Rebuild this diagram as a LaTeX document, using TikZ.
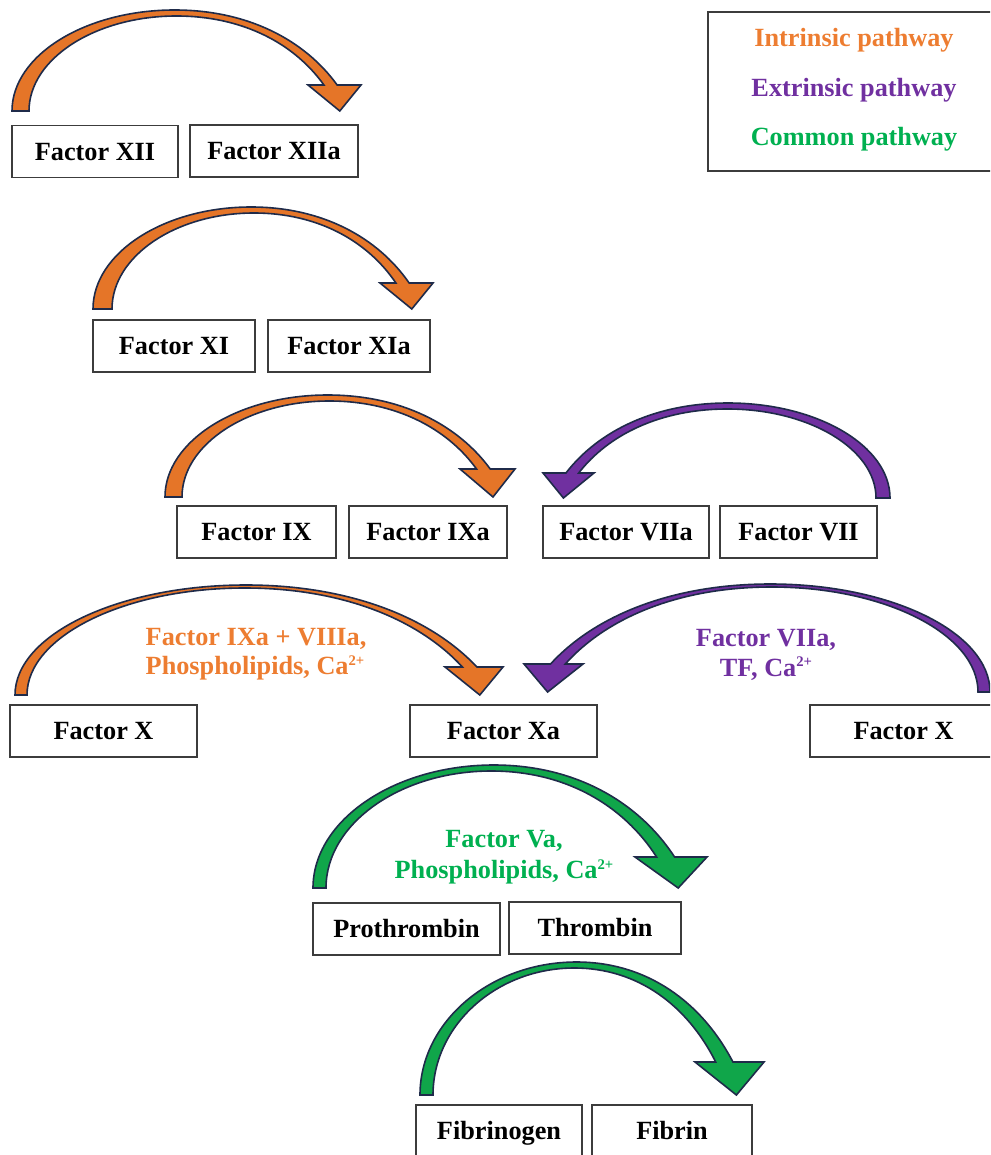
\documentclass[tikz,border=0pt]{standalone}
\usepackage{fontspec}
\setmainfont{Liberation Serif}
\definecolor{orng}{HTML}{ED7D31}
\definecolor{orngA}{HTML}{E57528}
\definecolor{purp}{HTML}{7030A0}
\definecolor{grn}{HTML}{00B050}
\definecolor{grnA}{HTML}{10A64A}
\definecolor{navy}{HTML}{1F2B4A}
\definecolor{boxline}{HTML}{3C3C3C}
\newcommand\supp[1]{\raisebox{0.36em}{\fontsize{11}{11}\selectfont #1}}
% ribbon arrow: #1 fill, #2 foot outer x, #3 foot inner x, #4 foot y, #5 top y,
% #6 head base y, #7 head left x, #8 head right x, #9 band thickness at top
\newcommand\rbarrow[9]{%
  \pgfmathsetmacro\rbW{(#8)-(#7)}%
  \pgfmathsetmacro\rbBi{(#7)+0.3*\rbW}%
  \pgfmathsetmacro\rbBo{(#7)+0.55*\rbW}%
  \pgfmathsetmacro\rbTx{(#7)+0.6*\rbW}%
  \pgfmathsetmacro\rbXm{((#2)+\rbBo)/2}%
  \pgfmathsetmacro\rbXi{((#3)+\rbBi)/2}%
  \pgfmathsetmacro\rbYi{(#5)+(#9)}%
  \pgfmathsetmacro\rbA{(#4)-0.55*((#4)-(#5))}%
  \pgfmathsetmacro\rbB{\rbXm-0.55*(\rbXm-(#2))}%
  \pgfmathsetmacro\rbC{\rbXm+0.45*(\rbBo-\rbXm)}%
  \pgfmathsetmacro\rbD{\rbBo-0.2*(\rbBo-\rbXm)}%
  \pgfmathsetmacro\rbE{(#6)-0.6*((#6)-(#5))}%
  \pgfmathsetmacro\rbF{\rbBi-0.2*(\rbBi-\rbXi)}%
  \pgfmathsetmacro\rbG{(#6)-0.6*((#6)-\rbYi)}%
  \pgfmathsetmacro\rbH{\rbXi+0.45*(\rbBi-\rbXi)}%
  \pgfmathsetmacro\rbI{\rbXi-0.55*(\rbXi-(#3))}%
  \pgfmathsetmacro\rbJ{(#4)-0.55*((#4)-\rbYi)}%
  \filldraw[ribbon, fill=#1] (#2,#4) .. controls (#2,\rbA) and (\rbB,#5) .. (\rbXm,#5)
    .. controls (\rbC,#5) and (\rbD,\rbE) .. (\rbBo,#6) -- (#8,#6) -- (\rbTx,#4) -- (#7,#6) -- (\rbBi,#6)
    .. controls (\rbF,\rbG) and (\rbH,\rbYi) .. (\rbXi,\rbYi)
    .. controls (\rbI,\rbYi) and (#3,\rbJ) .. (#3,#4) -- cycle;
}
\begin{document}
\begin{tikzpicture}[x=0.75pt,y=-0.75pt,
  lbl/.style={font=\fontsize{19.7}{23}\selectfont\bfseries, text height=13.6pt, text depth=0.4pt},
  box/.style={lbl, draw=boxline, line width=1.1pt, fill=white, inner sep=0pt, minimum height=52*0.75pt},
  ribbon/.style={draw=navy, line width=1.2pt, line join=miter},
  ann/.style={font=\fontsize{19.7}{22}\selectfont\bfseries}]
\useasboundingbox (0,0) rectangle (990,1155);
\clip (0,0) rectangle (990,1155);

% legend
\node[draw=boxline, line width=1.1pt, minimum width=290*0.75pt, minimum height=159*0.75pt, inner sep=0pt] (legend) at (853,91.5) {};
\node[lbl, text=orng] (leg1) at (854,38) {Intrinsic pathway};
\node[lbl, text=purp] (leg2) at (854,88) {Extrinsic pathway};
\node[lbl, text=grn]  (leg3) at (854,137) {Common pathway};

% boxes
\node[box, minimum width=166*0.75pt] (xii)  at (95,151.5) {Factor XII};
\node[box, minimum width=168*0.75pt] (xiia) at (274,151) {Factor XIIa};
\node[box, minimum width=162*0.75pt] (xi)   at (174,346) {Factor XI};
\node[box, minimum width=162*0.75pt] (xia)  at (349,346) {Factor XIa};
\node[box, minimum width=159*0.75pt] (ix)   at (256.5,532) {Factor IX};
\node[box, minimum width=158*0.75pt] (ixa)  at (428,532) {Factor IXa};
\node[box, minimum width=166*0.75pt] (viia) at (626,532) {Factor VIIa};
\node[box, minimum width=157*0.75pt] (vii)  at (798.5,532) {Factor VII};
\node[box, minimum width=187*0.75pt] (xl)   at (103.5,731) {Factor X};
\node[box, minimum width=187*0.75pt] (xa)   at (503.5,731) {Factor Xa};
\node[box, minimum width=187*0.75pt] (xr)   at (903.5,731) {Factor X};
\node[box, minimum width=187*0.75pt] (pro)  at (406.5,929) {Prothrombin};
\node[box, minimum width=172*0.75pt] (thr)  at (595,928) {Thrombin};
\node[box, minimum width=166*0.75pt] (fbg)  at (499,1131) {Fibrinogen};
\node[box, minimum width=160*0.75pt] (fbn)  at (672,1131) {Fibrin};

% arrows
\rbarrow{orngA}{12}{29}{111}{10}{85}{308}{361}{6}
\rbarrow{orngA}{93}{112}{309}{207}{283}{380}{433}{6}
\rbarrow{orngA}{165}{182}{497}{395}{469}{460}{515}{6}
\rbarrow{orngA}{15}{27}{695}{585}{667}{445}{503}{3}
\begin{scope}[xscale=-1]
\rbarrow{purp}{-890}{-876}{498}{403}{473}{-594}{-543}{6}
\rbarrow{purp}{-990}{-978}{692}{584}{664}{-583}{-524}{3}
\end{scope}
\rbarrow{grnA}{313}{326}{888}{765}{857}{635}{707}{6}
\rbarrow{grnA}{420}{433}{1095}{962}{1062}{695}{764}{6}

% annotations
\node[ann, text=orng, align=left, anchor=west] (ann1) at (141,654) {Factor IXa + VIIIa,\\Phospholipids, Ca\supp{2+}};
\node[ann, text=purp, align=center] (ann2) at (766,655) {Factor VIIa,\\TF, Ca\supp{2+}};
\node[ann, text=grn, align=center, font=\fontsize{19.7}{23.5}\selectfont\bfseries] (ann3) at (504,857) {Factor Va,\\Phospholipids, Ca\supp{2+}};
\end{tikzpicture}
\end{document}
